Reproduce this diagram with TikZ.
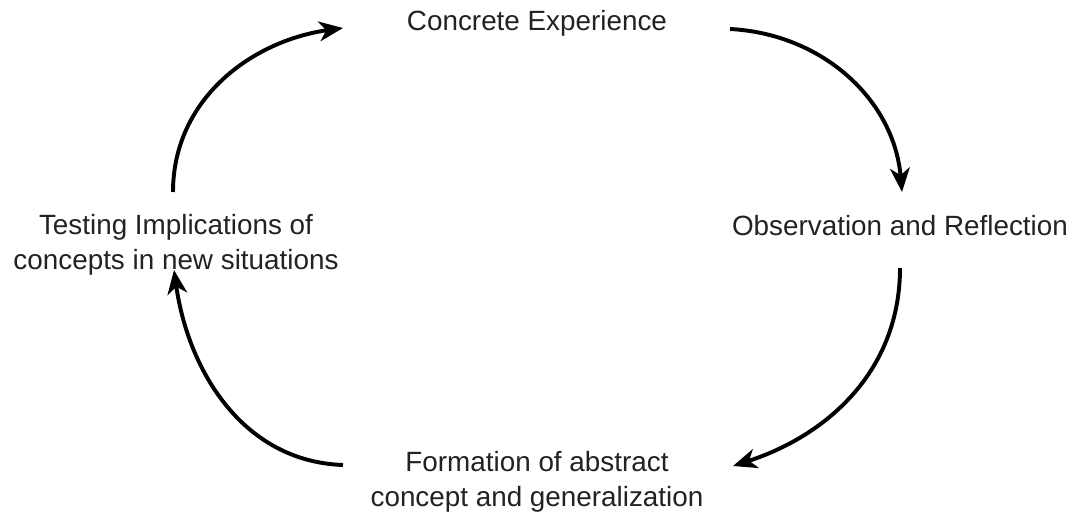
\documentclass[tikz,border=0pt]{standalone}
\usepackage{fontspec}
\setmainfont{Liberation Sans}
\usepackage{tikz}
\usetikzlibrary{calc, arrows.meta}
\definecolor{stagegray}{HTML}{222222}
\tikzset{
	stagenode/.style={
			shape=rectangle,
			align=center,
			inner sep=0pt,
			text=stagegray,
			font=\fontsize{19.8}{24.9}\selectfont
		},
	cyclearrow/.style={
			line width=2.8pt,
			-{Stealth[length=17pt,width=14pt,inset=5pt]}
		}
}

\begin{document}
\begin{tikzpicture}[x=0.025cm, y=-0.025cm]

  \useasboundingbox (0,0) rectangle (1074,512);

  \node[stagenode] (ce) at (537,23) {Concrete Experience};
  \node[stagenode] (obs) at (900,226) {Observation and Reflection};
  \node[stagenode] (form) at (537,482) {Formation of abstract\\concept and generalization};
  \node[stagenode] (test) at (176,245) {Testing Implications of\\concepts in new situations};

  \draw[cyclearrow] ($(test)+(-3,-53)$) to[out=90, in=188] ($(ce)+(-194,5)$);
  \draw[cyclearrow] ($(ce)+(193,6)$) to[out=-3, in=95] ($(obs)+(2,-34)$);
  \draw[cyclearrow] ($(obs)+(0,42)$) to[out=-90, in=18] ($(form)+(196,-16)$);
  \draw[cyclearrow] ($(form)+(-194,-17)$) to[out=178, in=-82] ($(test)+(-2,25)$);

\end{tikzpicture}
\end{document}
